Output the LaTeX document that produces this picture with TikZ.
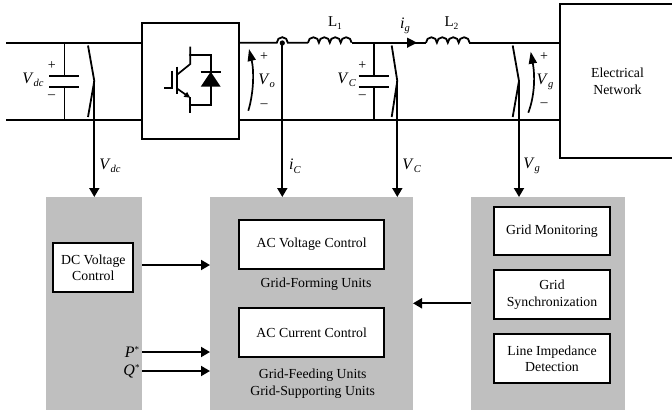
\documentclass[tikz,border=0pt]{standalone}
\usepackage{fontspec}
\setmainfont{Liberation Serif}
\usetikzlibrary{arrows.meta}
\newcommand\subv[2]{\textit{#1}\raisebox{-3.5pt}{\fontsize{10.5}{11}\selectfont\textit{#2}}}
\newcommand\supv[1]{\textit{#1}\raisebox{5pt}{\fontsize{9}{9}\selectfont *}}
\newcommand\subl[1]{L\raisebox{-2.5pt}{\fontsize{9.5}{10}\selectfont #1}}
\tikzset{
 wire/.style={line width=1.8pt,line cap=butt},
 sig/.style={line width=1.8pt,-{Triangle[length=9pt,width=10pt]}},
 vm/.style={line width=1.7pt,-{Triangle[length=12pt,width=8pt]}},
 gray box/.style={fill=black!25,draw=none,inner sep=0,outer sep=0,anchor=north west},
 ctl/.style={draw,line width=1.7pt,fill=white,inner sep=0,outer sep=0,anchor=north west,align=center,font=\fontsize{13.8}{16.7}\selectfont},
 pwr/.style={draw,line width=1.8pt,fill=white,inner sep=0,outer sep=0,anchor=north west,align=center,font=\fontsize{13.8}{16.7}\selectfont},
 lbl/.style={inner sep=0,font=\fontsize{13.8}{17}\selectfont,align=center},
 var/.style={inner sep=0,font=\fontsize{16}{16}\selectfont},
 pm/.style={inner sep=0,font=\fontsize{14}{14}\selectfont}
}
\begin{document}
\begin{tikzpicture}[x=1pt,y=-1pt]
\useasboundingbox (0,0) rectangle (672,415);
% power nodes
\coordinate (tl) at (6,42.7); \coordinate (bl) at (6,120);
\node[pwr,minimum width=97pt,minimum height=116pt] (conv) at (142.3,23.3) {};
\node[pwr,minimum width=115pt,minimum height=154.3pt] (net) at (560,4) {Electrical\\Network};
\coordinate (convtl) at (142.3,42.7); \coordinate (convbl) at (142.3,120);
\coordinate (convtr) at (239.3,42.7); \coordinate (convbr) at (239.3,120);
\coordinate (nettl) at (560,42.7); \coordinate (netbl) at (560,120);
\draw[wire] (tl)--(convtl); \draw[wire] (bl)--(convbl);
% top wire after converter
\coordinate (jA) at (282.3,42.7); \coordinate (L1b) at (352,42.7);
\coordinate (L2a) at (426,42.7); \coordinate (L2b) at (469.3,42.7);
\draw[wire] (convtr)--(276.8,42.7) arc[start angle=180,end angle=0,radius=5.5pt]--(308,42.7);
\draw[wire] (L1b)--(L2a); \draw[wire] (L2b)--(nettl);
\draw[wire] (convbr)--(netbl);
\foreach \a in {308,426}{
 \draw[wire] (\a,42.7) arc[start angle=180,end angle=0,radius=5.45pt]
   arc[start angle=180,end angle=0,radius=5.45pt]
   arc[start angle=180,end angle=0,radius=5.45pt]
   arc[start angle=180,end angle=0,radius=5.45pt];}
\fill (282.3,43) circle (2.6pt);
\node[lbl,font=\fontsize{15}{16}\selectfont] (L1t) at (335,23) {\subl{1}};
\node[lbl,font=\fontsize{15}{16}\selectfont] (L2t) at (451.5,23) {\subl{2}};
% capacitors
\foreach \x in {64.4,373.7}{
 \draw[wire] (\x,42.7)--(\x,76);
 \draw[wire] (\x,86.7)--(\x,120);
 \draw[wire] (\x-15,76)--(\x+15,76);
 \draw[wire] (\x-15,86.7)--(\x+15,86.7);
}
% switches
\coordinate (dcsw) at (94.3,81); \coordinate (cw) at (397.3,81); \coordinate (gsw) at (519,81);
\draw[wire] (88,45.5)--(dcsw)--(88,117);
\draw[wire] (391.7,45.5)--(cw)--(391.7,117);
\draw[wire] (512.7,45.5)--(gsw)--(512.7,117);
% gray blocks
\node[gray box,minimum width=96pt,minimum height=212.5pt] (gl) at (46,197) {};
\node[gray box,minimum width=203pt,minimum height=212.5pt] (gm) at (210,197) {};
\node[gray box,minimum width=154pt,minimum height=212.5pt] (gr) at (471,197) {};
\draw[sig] (dcsw)--(dcsw|-gl.north);
\draw[sig] (jA)--(jA|-gm.north);
\draw[sig] (cw)--(cw|-gm.north);
\draw[sig] (gsw)--(gsw|-gr.north);
% voltage arrows
\draw[vm] (248.3,110.7) .. controls (254,92) and (254,70) .. (249,49);
\draw[vm] (528.3,112.7) .. controls (535,95) and (535,75) .. (530.7,51.7);
% IGBT
\draw[line width=1.7pt] (190.3,46.7)--(190.3,64)--(176.7,75);
\draw[line width=1.7pt,-{Triangle[length=6pt,width=5.5pt]}] (176.7,88.3)--(190.3,97.8);
\draw[line width=1.7pt] (190.3,97)--(190.3,113.3);
\draw[line width=1.7pt] (190.3,55)--(210.7,55)--(210.7,105)--(190.3,105);
\draw[line width=1.7pt] (176.7,66.7)--(176.7,94);
\draw[line width=1.7pt] (172.3,70.7)--(172.3,88.3)--(164.3,88.3);
\fill (200.7,86.7)--(220.7,86.7)--(210.7,71.7)--cycle;
\draw[line width=1.7pt] (200.7,72.3)--(220.7,72.3);
\fill (190.3,55) circle (1.5pt) (190.3,105) circle (1.5pt);
% plus/minus and labels
\node[pm] (p1) at (51.7,65.7) {+}; \node[pm] (m1) at (51.7,96.7) {–};
\node[pm] (p2) at (264,56.7) {+}; \node[pm] (m2) at (264,106) {–};
\node[pm] (p3) at (362.3,66) {+}; \node[pm] (m3) at (362.3,96.7) {–};
\node[pm] (p4) at (544,56.7) {+}; \node[pm] (m4) at (544,104.3) {–};
\node[var] (v1) at (33,80) {\subv{V}{dc}};
\node[var] (v2) at (266.7,81) {\subv{V}{o}};
\node[var] (v3) at (346.7,80) {\subv{V}{C}};
\node[var] (v4) at (545,81.7) {\subv{V}{g}};
\node[var] (ig) at (405,26) {\subv{i}{g}};
\node[var] (v5) at (110,166) {\subv{V}{dc}};
\node[var] (ic) at (295,166) {\subv{i}{C}};
\node[var] (v6) at (411.7,166) {\subv{V}{C}};
\node[var] (v7) at (531.7,166) {\subv{V}{g}};
\fill (407,37.5)--(417,42.7)--(407,47.9)--cycle;
% control boxes
\node[ctl,minimum width=80pt,minimum height=48.7pt] (dc) at (53.3,243.3) {DC Voltage\\Control};
\node[ctl,minimum width=145.3pt,minimum height=49pt] (acv) at (239,220) {AC Voltage Control};
\node[ctl,minimum width=145.3pt,minimum height=48.4pt] (acc) at (239,308.3) {AC Current Control};
\node[ctl,minimum width=116.6pt,minimum height=48.6pt] (gmon) at (493.7,206.7) {Grid Monitoring};
\node[ctl,minimum width=116.6pt,minimum height=48.7pt] (gsyn) at (493.7,270.3) {Grid\\Synchronization};
\node[ctl,minimum width=116.6pt,minimum height=48.7pt] (lid) at (493.7,334.3) {Line Impedance\\Detection};
\node[lbl] (gf) at (316,284) {Grid-Forming Units};
\node[lbl] (gfs) at (312.7,383.5) {Grid-Feeding Units\\Grid-Supporting Units};
% control arrows
\coordinate (ar1) at (142,265); \coordinate (ar2) at (142,352); \coordinate (ar3) at (142,371);
\draw[sig] (ar1)--(ar1-|gm.west);
\draw[sig] (ar2)--(ar2-|gm.west);
\draw[sig] (ar3)--(ar3-|gm.west);
\coordinate (ar4) at (471,303.3);
\draw[sig] (ar4)--(ar4-|gm.east);
\node[var] (ps) at (132,352) {\supv{P}};
\node[var] (qs) at (131.5,371.5) {\supv{Q}};
\end{tikzpicture}
\end{document}
